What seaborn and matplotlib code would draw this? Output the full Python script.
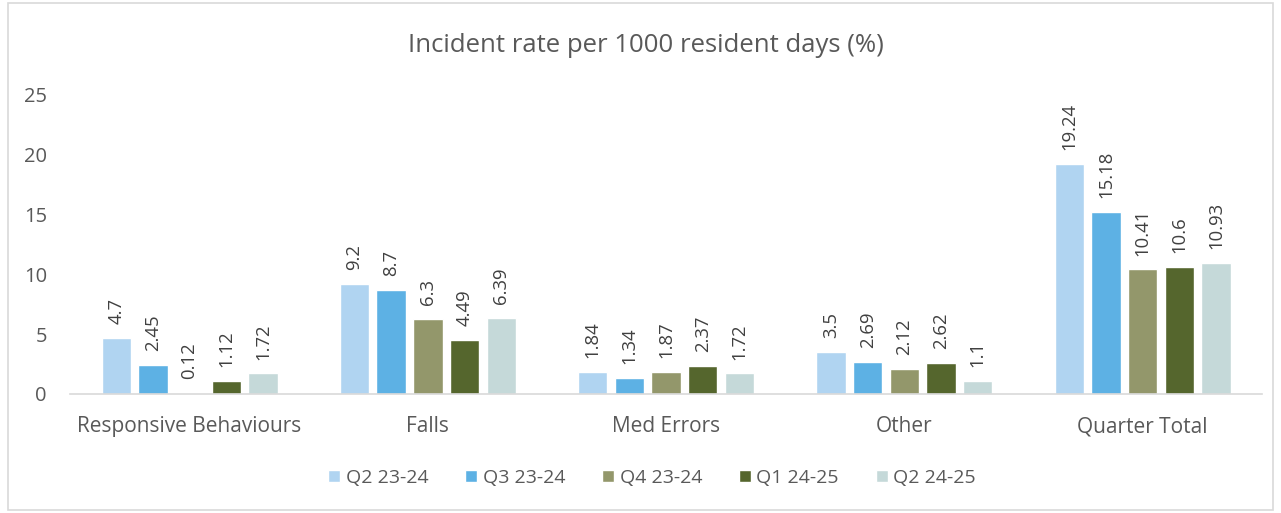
import matplotlib
matplotlib.use("Agg")
import matplotlib.pyplot as plt
import seaborn as sns
import pandas as pd
from matplotlib.patches import Rectangle

categories = ["Responsive Behaviours", "Falls", "Med Errors", "Other", "Quarter Total"]
series = ["Q2 23-24", "Q3 23-24", "Q4 23-24", "Q1 24-25", "Q2 24-25"]
q2_2324 = [4.7, 9.2, 1.84, 3.5, 19.24]
q3_2324 = [2.45, 8.7, 1.34, 2.69, 15.18]
q4_2324 = [0.12, 6.3, 1.87, 2.12, 10.41]
q1_2425 = [1.12, 4.49, 2.37, 2.62, 10.6]
q2_2425 = [1.72, 6.39, 1.72, 1.1, 10.93]
colors = ["#B0D4F1", "#5DB1E4", "#93976B", "#55662D", "#C5D9D9"]

rows = []
for s, vals in zip(series, [q2_2324, q3_2324, q4_2324, q1_2425, q2_2425]):
    for c, v in zip(categories, vals):
        rows.append({"Category": c, "Series": s, "Value": v})
df = pd.DataFrame(rows)

sns.set_theme(style="white")
plt.rcParams["font.family"] = ["Open Sans", "DejaVu Sans"]
text_color = "#595959"

fig = plt.figure(figsize=(12.81, 5.13), dpi=100)
ax = fig.add_axes([0.055, 0.232, 0.93, 0.583])
sns.barplot(data=df, x="Category", y="Value", hue="Series", order=categories,
            hue_order=series, palette=colors, width=0.77, gap=0.2,
            saturation=1, ax=ax, legend=True, errorbar=None)

for cont in ax.containers:
    ax.bar_label(cont, labels=[f"{v:g}" for v in cont.datavalues], rotation=90,
                 padding=10, fontsize=13.3, color="#404040")

ax.set_ylim(0, 25)
ax.set_yticks([0, 5, 10, 15, 20, 25])
ax.set_xlim(-0.5, 4.5)
ax.set_xlabel("")
ax.set_ylabel("")
ax.tick_params(axis="y", labelsize=14.5, colors=text_color, length=0, pad=17)
ax.tick_params(axis="x", labelsize=15, colors=text_color, length=0, pad=16)
for sp in ["top", "right", "left"]:
    ax.spines[sp].set_visible(False)
ax.spines["bottom"].set_color("#D9D9D9")
ax.spines["bottom"].set_linewidth(1.2)

fig.text(0.504, 0.912, "Incident rate per 1000 resident days (%)", fontsize=18.5,
         color=text_color, ha="center", va="center")

handles, labels = ax.get_legend_handles_labels()
ax.legend(handles, labels, loc="center", bbox_to_anchor=(0.509, 0.068),
          bbox_transform=fig.transFigure, ncol=5, frameon=False,
          fontsize=14, labelcolor=text_color, handlelength=0.6,
          handleheight=0.6, handletextpad=0.3, columnspacing=1.9)

fig.patches.append(Rectangle((0.006, 0.006), 0.988, 0.988, transform=fig.transFigure,
                             fill=False, edgecolor="#D9D9D9", linewidth=1.2))

fig.savefig("out.png", dpi=100, facecolor="white")
